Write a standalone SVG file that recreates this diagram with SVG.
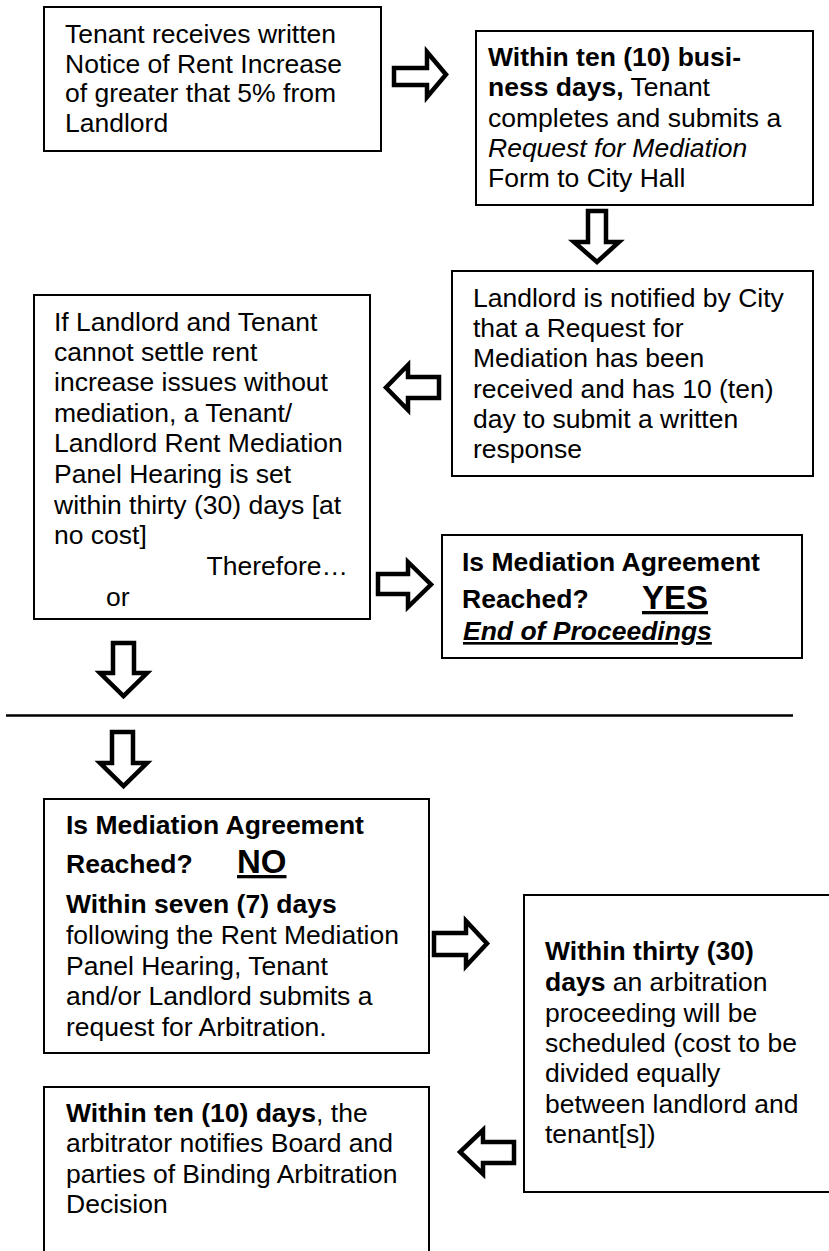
<svg xmlns="http://www.w3.org/2000/svg" width="829" height="1251" viewBox="0 0 829 1251">
<style>
  .box { fill: #fff; stroke: #000; stroke-width: 2; }
  .open { fill: none; stroke: #000; stroke-width: 2; }
  .arrow { fill: #fff; stroke: #000; stroke-width: 4.5; stroke-linejoin: miter; }
  text { font-family: "Liberation Sans", Arial, sans-serif; font-size: 26.5px; fill: #000; }
  .b { font-weight: bold; }
  .i { font-style: italic; }
  .u { text-decoration: underline; }
  .big { font-size: 33px; font-weight: bold; text-decoration: underline; }
</style>
<rect width="829" height="1251" fill="#fff"/>

<g id="node-notice">
  <rect class="box" x="44" y="7" width="337" height="144"/>
  <text x="65" y="43">Tenant receives written</text>
  <text x="65" y="73">Notice of Rent Increase</text>
  <text x="65" y="102">of greater that 5% from</text>
  <text x="65" y="132">Landlord</text>
</g>

<g id="node-request">
  <rect class="box" x="476" y="31" width="337" height="174"/>
  <text x="488" y="66" class="b">Within ten (10) busi-</text>
  <text x="488" y="96"><tspan class="b">ness days,</tspan> Tenant</text>
  <text x="488" y="127">completes and submits a</text>
  <text x="488" y="157" class="i">Request for Mediation</text>
  <text x="488" y="187">Form to City Hall</text>
</g>

<g id="node-landlord-notified">
  <rect class="box" x="452" y="271" width="361" height="205"/>
  <text x="473" y="307">Landlord is notified by City</text>
  <text x="473" y="337">that a Request for</text>
  <text x="473" y="367">Mediation has been</text>
  <text x="473" y="398">received and has 10 (ten)</text>
  <text x="473" y="428">day to submit a written</text>
  <text x="473" y="458">response</text>
</g>

<g id="node-hearing">
  <rect class="box" x="34" y="295" width="336" height="324"/>
  <text x="54" y="331">If Landlord and Tenant</text>
  <text x="54" y="361">cannot settle rent</text>
  <text x="54" y="391">increase issues without</text>
  <text x="54" y="422">mediation, a Tenant/</text>
  <text x="54" y="452">Landlord Rent Mediation</text>
  <text x="54" y="483">Panel Hearing is set</text>
  <text x="54" y="514">within thirty (30) days [at</text>
  <text x="54" y="544">no cost]</text>
  <text x="348" y="575" text-anchor="end">Therefore…</text>
  <text x="106" y="606">or</text>
</g>

<g id="node-yes">
  <rect class="box" x="442" y="535" width="360" height="123"/>
  <text x="462" y="571" class="b">Is Mediation Agreement</text>
  <text x="462" y="608" class="b">Reached?</text>
  <text x="642" y="609" class="big">YES</text>
  <text x="463" y="640" class="b i u">End of Proceedings</text>
</g>

<g id="node-no">
  <rect class="box" x="44" y="799" width="385" height="254"/>
  <text x="66" y="834" class="b">Is Mediation Agreement</text>
  <text x="66" y="873" class="b">Reached?</text>
  <text x="237" y="873" class="big">NO</text>
  <text x="66" y="913" class="b">Within seven (7) days</text>
  <text x="66" y="944">following the Rent Mediation</text>
  <text x="66" y="975">Panel Hearing, Tenant</text>
  <text x="66" y="1005">and/or Landlord submits a</text>
  <text x="66" y="1036">request for Arbitration.</text>
</g>

<g id="node-arbitration">
  <path class="open" d="M830,895 H524 V1192 H830"/>
  <text x="545" y="960" class="b">Within thirty (30)</text>
  <text x="545" y="991"><tspan class="b">days</tspan> an arbitration</text>
  <text x="545" y="1022">proceeding will be</text>
  <text x="545" y="1052">scheduled (cost to be</text>
  <text x="545" y="1082">divided equally</text>
  <text x="545" y="1113">between landlord and</text>
  <text x="545" y="1143">tenant[s])</text>
</g>

<g id="node-decision">
  <path class="open" d="M44,1260 V1087 H429 V1260"/>
  <text x="66" y="1122"><tspan class="b">Within ten (10) days</tspan>, the</text>
  <text x="66" y="1152">arbitrator notifies Board and</text>
  <text x="66" y="1183">parties of Binding Arbitration</text>
  <text x="66" y="1213">Decision</text>
</g>

<g id="connectors">
  <path class="arrow" d="M394,68 H427 V52 L446,74.5 L427,97 V85 H394 Z"/>
  <path class="arrow" d="M588,211 H606 V242 H619 L597,262 L574,242 H588 Z"/>
  <path class="arrow" d="M439,377 H408 V365 L386,387.5 L408,410 V398 H439 Z"/>
  <path class="arrow" d="M378,574 H408 V562 L431,584.5 L408,607 V594 H378 Z"/>
  <path class="arrow" d="M113,643 H134 V673 H147 L123.5,696 L100,673 H113 Z"/>
  <line x1="6" y1="715.5" x2="793" y2="715.5" stroke="#000" stroke-width="2.5"/>
  <path class="arrow" d="M112,732 H133 V763 H147 L123.5,786 L100,763 H112 Z"/>
  <path class="arrow" d="M434,933 H466 V921 L487,943.5 L466,966 V955 H434 Z"/>
  <path class="arrow" d="M514,1142 H483 V1130 L460,1152 L483,1174 V1163 H514 Z"/>
</g>
</svg>
